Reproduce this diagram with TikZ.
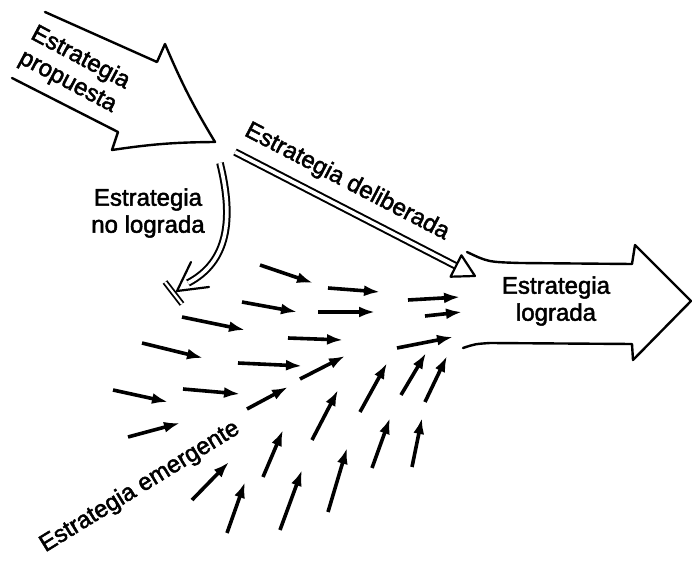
\documentclass[tikz,border=0pt]{standalone}
\usepackage{fontspec}
\setmainfont{Liberation Sans}[FakeBold=2]
\usetikzlibrary{arrows.meta}
\begin{document}
\begin{tikzpicture}[x=1pt,y=-1pt,
  outl/.style={line width=2.4pt,line join=round,line cap=round},
  dbl/.style={line width=2pt,double=white,double distance=3.6pt},
  emarrow/.style={line width=3.6pt,-{Latex[length=16pt,width=11pt]}},
  lbl/.style={font=\fontsize{24}{27}\selectfont,align=center,inner sep=0pt}]
\useasboundingbox (0,0) rectangle (694,564);
% Estrategia propuesta block arrow
\coordinate (p1) at (45,12);
\coordinate (p2) at (157,62);
\coordinate (p3) at (165,44);
\coordinate (p4) at (215,142);
\coordinate (p5) at (112,150);
\coordinate (p6) at (118,132);
\coordinate (p7) at (12,78);
\draw[outl] (p1) -- (p2) -- (p3) to[bend right=4] (p4) to[bend right=4] (p5) -- (p6) -- (p7);
\node[lbl,rotate=-28] (tprop) at (74,70) {Estrategia\\propuesta};
% Estrategia lograda block arrow
\coordinate (l1) at (467,252);
\coordinate (l2) at (520,263);
\coordinate (l3) at (632,264);
\coordinate (l4) at (635,245);
\coordinate (l5) at (691,301);
\coordinate (l6) at (633,360);
\coordinate (l7) at (632,344);
\coordinate (l8) at (490,343);
\coordinate (l9) at (463,348);
\draw[outl] (l1) .. controls (488,262) .. (l2) -- (l3) -- (l4) -- (l5) -- (l6) -- (l7) -- (l8) .. controls (475,344) .. (l9);
\node[lbl] (tlog) at (556,301) {Estrategia\\lograda};
% Estrategia deliberada
\coordinate (dstart) at (235,152);
\coordinate (dbase) at (456,266);
\coordinate (dtip) at (475,276);
\coordinate (dc1) at (450.6,276.7);
\coordinate (dc2) at (461.4,255.3);
\draw[dbl] (dstart) -- (dbase);
\draw[outl,fill=white,line width=2.2pt] (dc1) -- (dtip) -- (dc2) -- cycle;
\node[lbl,rotate=-27.5] (tdel) at (347,182) {Estrategia deliberada};
% Estrategia no lograda
\coordinate (nstart) at (220,163);
\coordinate (nend) at (188,283);
\coordinate (ntip) at (177,291);
\coordinate (nb1) at (191,262);
\coordinate (nb2) at (209,287);
\coordinate (w1) at (165,282);
\coordinate (w2) at (182,304);
\draw[dbl] (nstart) .. controls (234,220) and (228,262) .. (nend);
\draw[outl,line width=2.2pt] (nb1) -- (ntip) -- (nb2);
\draw[line width=1.8pt,double=white,double distance=2.2pt] (w1) -- (w2);
\node[lbl] (tnolog) at (148,213) {Estrategia\\no lograda};
% Estrategia emergente
\node[lbl,rotate=31.6] (temer) at (140,487) {Estrategia emergente};
\foreach \xa/\ya/\xb/\yb [count=\i] in {
  260/265/313/283, 328/288/380/292, 408/300/460/297,
  242/302/297/312, 318/312/375/312, 425/316/462/312,
  182/317/245/330, 288/338/343/340, 397/348/453/337,
  142/343/203/358, 238/363/302/366, 300/379/345/356,
  113/390/168/402, 183/389/240/394, 247/409/288/387,
  360/412/387/363, 401/395/426/353, 425/402/447/356,
  312/440/338/390, 128/437/180/423, 192/500/229/462,
  227/533/245/482, 263/477/283/430, 280/530/302/470,
  328/512/347/448, 372/468/390/418, 412/467/422/418} {
  \coordinate (s\i) at (\xa,\ya);
  \coordinate (e\i) at (\xb,\yb);
  \draw[emarrow] (s\i) -- (e\i);
}
\end{tikzpicture}
\end{document}
